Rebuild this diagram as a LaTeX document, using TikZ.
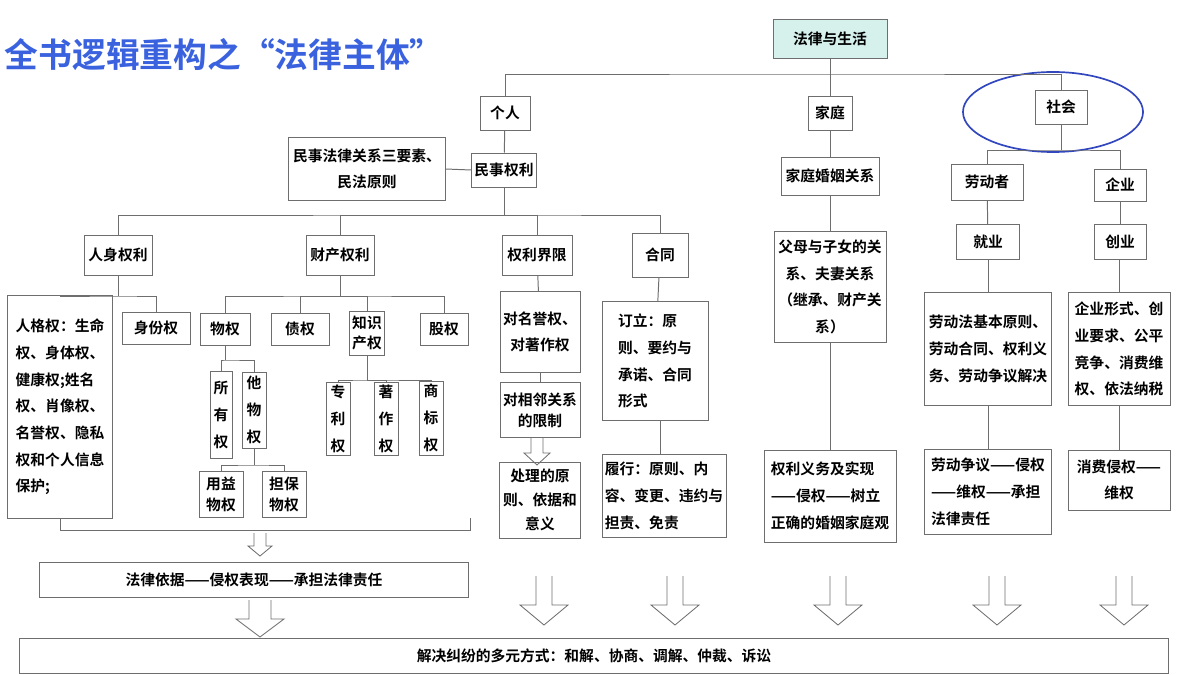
\documentclass[tikz,border=0pt]{standalone}
\usepackage{fontspec}
\setmainfont{Noto Sans CJK SC}[BoldFont={Noto Sans CJK SC Bold}]
\usepackage{tikz}
\usetikzlibrary{shapes.geometric,positioning}
\definecolor{lbline}{RGB}{110,110,110}
\definecolor{lbteal}{RGB}{214,240,236}
\definecolor{lbtitle}{RGB}{58,98,222}
\definecolor{lbring}{RGB}{50,70,190}
\tikzstyle{box} = [rectangle, draw=lbline, line width=0.7pt, fill=white, align=center, inner sep=2pt, font=\fontsize{10.5}{19}\selectfont\bfseries]
\tikzstyle{link} = [draw=lbline, line width=0.7pt]
\tikzstyle{harrow} = [draw=lbline, line width=0.6pt]
\newcommand{\hollowarrow}[6]{%
  \draw[harrow] (#1-#4,#2) -- (#1-#4,#3-#6) -- (#1-#5,#3-#6) -- (#1,#3)
    -- (#1+#5,#3-#6) -- (#1+#4,#3-#6) -- (#1+#4,#2);}

\begin{document}
\begin{tikzpicture}[x=0.025cm, y=-0.025cm]
\useasboundingbox (0,0) rectangle (1200,675);
% Title
\node[anchor=west, text=lbtitle, font=\fontsize{24}{28}\selectfont\bfseries] (title) at (0,55) {全书逻辑重构之“法律主体”};

% Top level
\node[box, fill=lbteal, minimum width=2.85cm, minimum height=0.95cm] (life) at (830,39) {法律与生活};
\node[box, minimum width=1.25cm, minimum height=0.85cm] (geren) at (505,113) {个人};
\node[box, minimum width=1.1cm, minimum height=0.85cm] (jiating) at (830,113) {家庭};
\node[box, minimum width=1.3cm, minimum height=0.85cm] (shehui) at (1061,107) {社会};
\node[ellipse, draw=lbring, line width=1.2pt, minimum width=4.5cm, minimum height=2cm] (ring) at (1053,112) {};
\coordinate (tj) at (830,74);
\draw[link] (life) -- (tj);
\draw[link] (geren.north) |- (tj) -| (shehui.north);
\draw[link] (tj) -- (jiating.north);

% Individual
\node[box, minimum width=1.55cm, minimum height=0.85cm] (minshi) at (504,170) {民事权利};
\node[box, minimum width=3.9cm, minimum height=1.55cm] (yaosu) at (367,169) {民事法律关系三要素、\\民法原则};
\draw[link] (geren) -- (minshi);
\draw[link] (yaosu.east) -- (minshi.west);
\node[box, minimum width=1.7cm, minimum height=1cm] (renshen) at (118,255) {人身权利};
\node[box, minimum width=1.7cm, minimum height=1cm] (caichan) at (340,255) {财产权利};
\node[box, minimum width=1.75cm, minimum height=1cm] (jiexian) at (537,255) {权利界限};
\node[box, minimum width=1.4cm, minimum height=1.1cm] (hetong) at (660,255) {合同};
\coordinate (mj) at (504,215);
\draw[link] (minshi) -- (mj);
\draw[link] (renshen.north) |- (mj) -| (hetong.north);
\draw[link] (caichan.north) |- (mj);
\draw[link] (jiexian.north) |- (mj);

% Personal rights
\node[box, align=left, minimum width=2.62cm, minimum height=5.55cm] (renge) at (60,407) {人格权：生命\\权、身体权、\\健康权;姓名\\权、肖像权、\\名誉权、隐私\\权和个人信息\\保护;};
\node[box, minimum width=1.7cm, minimum height=0.8cm] (shenfen) at (156,328) {身份权};
\coordinate (rj) at (118,296);
\draw[link] (renshen) -- (rj);
\draw[link] (renge.north) |- (rj) -| (shenfen.north);

% Property rights
\node[box, minimum width=1.25cm, minimum height=0.8cm] (wuquan) at (225,329) {物权};
\node[box, minimum width=1.45cm, minimum height=0.8cm] (zhaiquan) at (300,329) {债权};
\node[box, minimum width=0.85cm, minimum height=1.1cm, font=\fontsize{10.5}{14}\selectfont\bfseries] (zhishi) at (367,333) {知识\\产权};
\node[box, minimum width=1.2cm, minimum height=0.8cm] (guquan) at (444,329) {股权};
\coordinate (cj) at (340,296);
\draw[link] (caichan) -- (cj);
\draw[link] (wuquan.north) |- (cj) -| (guquan.north);
\draw[link] (zhaiquan.north) |- (cj);
\draw[link] (zhishi.north) |- (cj);
\node[box, minimum width=0.55cm, minimum height=2.15cm] (suoyou) at (221,415) {所\\有\\权};
\node[box, minimum width=0.6cm, minimum height=1.9cm] (tawu) at (254,410) {他\\物\\权};
\coordinate (wj) at (225,360);
\draw[link] (wuquan) -- (wj);
\draw[link] (suoyou.north) |- (wj) -| (tawu.north);
\node[box, minimum width=1.1cm, minimum height=1.15cm, font=\fontsize{10.5}{15}\selectfont\bfseries] (yongyi) at (221,494) {用益\\物权};
\node[box, minimum width=1.1cm, minimum height=1.15cm, font=\fontsize{10.5}{15}\selectfont\bfseries] (danbao) at (284,494) {担保\\物权};
\coordinate (aj) at (254,465);
\draw[link] (tawu) -- (aj);
\draw[link] (yongyi.north) |- (aj) -| (danbao.north);
\node[box, minimum width=0.6cm, minimum height=1.8cm] (zhuanli) at (338,419) {专\\利\\权};
\node[box, minimum width=0.6cm, minimum height=1.8cm] (zhuzuo) at (386,419) {著\\作\\权};
\node[box, minimum width=0.6cm, minimum height=1.85cm] (shangbiao) at (431,418) {商\\标\\权};
\coordinate (zj) at (367,380);
\draw[link] (zhishi) -- (zj);
\draw[link] (zhuanli.north) |- (zj) -| (shangbiao.north);
\draw[link] (zhuzuo.north) |- (zj);

% Legal basis
\coordinate (brk) at (470,518);
\draw[link] (renge.south) -- ++(0,12) -| (brk);
\hollowarrow{260}{533}{556}{6}{12}{10}
\node[box, minimum width=10.7cm, minimum height=0.88cm] (falv) at (254,580) {法律依据——侵权表现——承担法律责任};
\hollowarrow{260}{600}{637}{11}{24}{18}

% Limits of rights
\node[box, minimum width=2cm, minimum height=2cm] (mingyu) at (540,332) {对名誉权、\\对著作权};
\node[box, minimum width=2cm, minimum height=1.38cm, font=\fontsize{10.5}{15}\selectfont\bfseries] (xianglin) at (540,410) {对相邻关系\\的限制};
\node[box, minimum width=2.02cm, minimum height=1.9cm, font=\fontsize{10.5}{17}\selectfont\bfseries] (chuli) at (540,500) {处理的原\\则、依据和\\意义};
\draw[link] (jiexian) -- (mingyu);
\draw[link] (mingyu) -- (xianglin);
\hollowarrow{537}{437}{465}{6}{13}{12}

% Contract
\node[box, align=left, minimum width=2.65cm, minimum height=2.95cm] (dingli) at (655,361) {订立：原\\则、要约与\\承诺、合同\\形式};
\node[box, align=left, minimum width=3.1cm, minimum height=2.08cm] (lvxing) at (664,496) {履行：原则、内\\容、变更、违约与\\担责、免责};
\draw[link] (hetong) -- (dingli);
\draw[link] (dingli.south -| hetong) -- (lvxing.north -| hetong);

% Family
\node[box, minimum width=2.45cm, minimum height=0.95cm] (hunyin) at (830,176) {家庭婚姻关系};
\node[box, minimum width=2.8cm, minimum height=2.75cm] (fumu) at (830,287) {父母与子女的关\\系、夫妻关系\\（继承、财产关\\系）};
\node[box, align=left, minimum width=3.3cm, minimum height=2.3cm] (quanli) at (830,496) {权利义务及实现\\——侵权——树立\\正确的婚姻家庭观};
\draw[link] (jiating) -- (hunyin);
\draw[link] (hunyin) -- (fumu);
\draw[link] (fumu) -- (quanli);

% Society
\node[box, minimum width=1.8cm, minimum height=0.9cm] (laodongzhe) at (987,182) {劳动者};
\node[box, minimum width=1.3cm, minimum height=0.8cm] (qiye) at (1120,185) {企业};
\coordinate (sj) at (1061,150);
\draw[link] (shehui) -- (sj);
\draw[link] (laodongzhe.north) |- (sj) -| (qiye.north);
\node[box, minimum width=1.58cm, minimum height=0.88cm] (jiuye) at (988,242) {就业};
\node[box, minimum width=1.3cm, minimum height=0.88cm] (chuangye) at (1120,242) {创业};
\node[box, align=left, minimum width=3.18cm, minimum height=2.8cm] (laodongfa) at (988,349) {劳动法基本原则、\\劳动合同、权利义\\务、劳动争议解决};
\node[box, align=left, minimum width=2.55cm, minimum height=2.8cm] (xingshi) at (1119,349) {企业形式、创\\业要求、公平\\竞争、消费维\\权、依法纳税};
\node[box, align=left, minimum width=3.18cm, minimum height=2.12cm] (zhengyi) at (988,492) {劳动争议——侵权\\——维权——承担\\法律责任};
\node[box, minimum width=2.55cm, minimum height=1.5cm] (xiaofei) at (1119,480) {消费侵权——\\维权};
\draw[link] (laodongzhe) -- (jiuye);
\draw[link] (jiuye) -- (laodongfa);
\draw[link] (laodongfa) -- (zhengyi);
\draw[link] (qiye) -- (chuangye);
\draw[link] (chuangye.south -| xingshi) -- (xingshi);
\draw[link] (xingshi) -- (xiaofei);

% Resolution
\foreach \ax in {544,675,838,997,1124}
  \hollowarrow{\ax}{576}{625}{8}{24}{20}
\node[box, minimum width=28.7cm, minimum height=0.88cm] (jiejue) at (594,656) {解决纠纷的多元方式：和解、协商、调解、仲裁、诉讼};
\end{tikzpicture}
\end{document}
